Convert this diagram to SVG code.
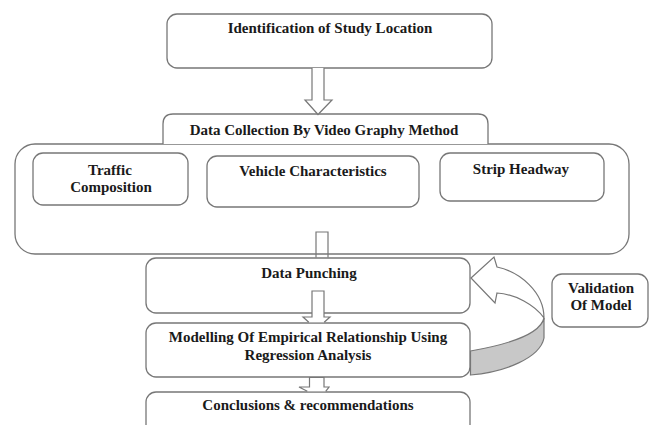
<svg xmlns="http://www.w3.org/2000/svg" width="654" height="425" viewBox="0 0 654 425">
<style>
.box{fill:#fff;stroke:#777;stroke-width:1.3}
.arw{fill:#fff;stroke:#777;stroke-width:1.2;stroke-linejoin:miter}
.t{font-family:"Liberation Serif","Times New Roman",serif;font-weight:bold;font-size:15px;fill:#1a1a1a;text-anchor:middle}
</style>
<rect width="654" height="425" fill="#fff"/>
<g id="node-study">
<rect class="box" x="167" y="14" width="325" height="54" rx="10"/>
<text class="t" x="330" y="33">Identification of Study Location</text>
</g>
<g id="node-datacollection">
<rect class="box" x="15" y="144" width="614" height="110" rx="20"/>
<path class="box" d="M163,144 V124 Q163,114 173,114 H478 Q488,114 488,124 V144"/>
<text class="t" x="324" y="135">Data Collection By Video Graphy Method</text>
</g>
<g id="node-traffic">
<rect class="box" x="33" y="153" width="155" height="52" rx="10"/>
<text class="t" x="110" y="175">Traffic</text>
<text class="t" x="111" y="192">Composition</text>
</g>
<g id="node-vehicle">
<rect class="box" x="207" y="156" width="212" height="51" rx="10"/>
<text class="t" x="313" y="176">Vehicle Characteristics</text>
</g>
<g id="node-strip">
<rect class="box" x="440" y="153" width="164" height="48" rx="10"/>
<text class="t" x="521" y="174">Strip Headway</text>
</g>
<g id="node-punching">
<rect class="box" x="146" y="258" width="324" height="55" rx="10"/>
<text class="t" x="309" y="278">Data Punching</text>
</g>
<g id="node-modelling">
<rect class="box" x="146" y="323" width="324" height="54" rx="10"/>
<text class="t" x="308" y="342">Modelling Of Empirical Relationship Using</text>
<text class="t" x="308" y="360">Regression Analysis</text>
</g>
<g id="node-conclusions">
<rect class="box" x="146" y="392" width="324" height="50" rx="10"/>
<text class="t" x="308" y="410">Conclusions &amp; recommendations</text>
</g>
<g id="node-validation">
<rect class="box" x="552" y="274" width="96" height="53" rx="10"/>
<text class="t" x="601" y="293">Validation</text>
<text class="t" x="601" y="310">Of Model</text>
</g>
<g id="connectors">
<path class="arw" d="M312,68 V100 H305 L318,114.5 L332,100 H324 V68"/>
<path class="arw" style="fill:none" d="M316,257.5 V232 H328 V257.5"/>
<path class="arw" d="M308.8,322.3 L303,317 H312 V291 H324 V317 H330 L324.2,322.3"/>
<path class="arw" d="M307.3,391.3 L299,387 H309.5 V377.5 H324 V387 H329 L325.7,391.3"/>
<path d="M470.5,351 C505,345 540,335 544,318 L544,338 C540,358 505,372 470.5,375 Z" fill="#c8c8c8" stroke="#777" stroke-width="1.2"/>
<path class="arw" d="M471,278 L494,257 L497,267 C520,272 544,292 544,318 C535,305 515,294 497,293 L495,303 Z"/>
</g>
</svg>
